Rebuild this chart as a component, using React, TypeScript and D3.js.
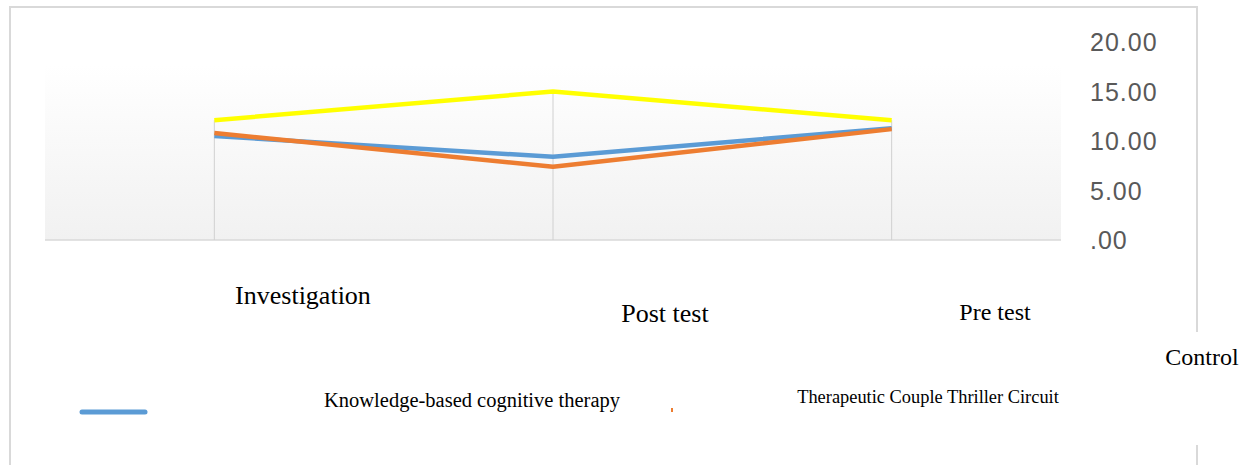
import * as d3 from 'd3';
import { useEffect, useRef } from 'react';

// categories along the x axis
const categories = ['Investigation', 'Post test', 'Pre test'];
// series values
const knowledgeValues = [10.5, 8.4, 11.3];
const thrillerValues = [10.8, 7.4, 11.2];
const controlValues = [12.1, 15.0, 12.1];
const yTicks = [0, 5, 10, 15, 20];
const yTickLabels = ['.00', '5.00', '10.00', '15.00', '20.00'];

const seriesNames = ['Knowledge-based cognitive therapy', 'Therapeutic Couple Thriller Circuit', 'Control'];

export default function App() {
  const ref = useRef<SVGSVGElement | null>(null);

  useEffect(() => {
    if (!ref.current) return;
    const svg = d3.select(ref.current);
    svg.selectAll('*').remove();

    const width = 1256;
    const height = 465;
    const plot = { left: 45, right: 1061, top: 65, bottom: 240 };
    const serif = '"Times New Roman", "Liberation Serif", serif';

    svg.attr('width', width).attr('height', height).attr('viewBox', `0 0 ${width} ${height}`);

    // outer frame (right edge broken where "Control" sits)
    const frame = svg.append('g').attr('stroke', '#d9d9d9').attr('stroke-width', 2).attr('fill', 'none');
    frame.append('line').attr('x1', 9).attr('x2', 1198).attr('y1', 7).attr('y2', 7);
    frame.append('line').attr('x1', 10).attr('x2', 10).attr('y1', 6).attr('y2', height);
    frame.append('line').attr('x1', 1197).attr('x2', 1197).attr('y1', 6).attr('y2', 332);
    frame.append('line').attr('x1', 1197).attr('x2', 1197).attr('y1', 445).attr('y2', height);

    const x = d3
      .scaleBand<string>()
      .domain(categories)
      .range([plot.left, plot.right]);
    const cx = (c: string) => (x(c) || 0) + x.bandwidth() / 2;
    const y = d3.scaleLinear().domain([0, 20]).range([240, 42]);

    // plot background gradient
    const defs = svg.append('defs');
    const grad = defs
      .append('linearGradient')
      .attr('id', 'bg')
      .attr('x1', 0)
      .attr('x2', 0)
      .attr('y1', 0)
      .attr('y2', 1);
    grad.append('stop').attr('offset', '0%').attr('stop-color', '#ffffff');
    grad.append('stop').attr('offset', '100%').attr('stop-color', '#f1f1f1');
    svg
      .append('rect')
      .attr('x', plot.left)
      .attr('y', plot.top)
      .attr('width', plot.right - plot.left)
      .attr('height', plot.bottom - plot.top)
      .attr('fill', 'url(#bg)');

    // baseline
    svg
      .append('line')
      .attr('x1', plot.left)
      .attr('x2', plot.right)
      .attr('y1', y(0))
      .attr('y2', y(0))
      .attr('stroke', '#d9d9d9')
      .attr('stroke-width', 1.5);

    // drop lines from the highest point
    const allSeries = [knowledgeValues, thrillerValues, controlValues];
    categories.forEach((c, i) => {
      const top = d3.max(allSeries, (s) => s[i]) || 0;
      svg
        .append('line')
        .attr('x1', cx(c))
        .attr('x2', cx(c))
        .attr('y1', y(top))
        .attr('y2', y(0))
        .attr('stroke', '#d0d0d0')
        .attr('stroke-width', 1);
    });

    // y tick labels on the right
    svg
      .append('g')
      .selectAll('text')
      .data(yTicks)
      .enter()
      .append('text')
      .attr('x', 1090)
      .attr('y', (d) => y(d) + 9)
      .attr('font-family', '"Liberation Sans", Arial, sans-serif')
      .attr('font-size', 25)
      .attr('letter-spacing', 1)
      .attr('fill', '#595959')
      .text((d, i) => yTickLabels[i]);

    // lines
    const colors = ['#5b9bd5', '#ed7d31', '#ffff00'];
    const line = d3
      .line<number>()
      .x((d, i) => cx(categories[i]))
      .y((d) => y(d));
    allSeries.forEach((s, i) => {
      svg
        .append('path')
        .datum(s)
        .attr('d', line)
        .attr('fill', 'none')
        .attr('stroke', colors[i])
        .attr('stroke-width', 4.5)
        .attr('stroke-linejoin', 'round');
    });

    // category labels (staggered as in the source)
    const catLabelPos = [
      { x: 303, y: 304, size: 26 },
      { x: 665, y: 322, size: 26 },
      { x: 995, y: 320, size: 24 },
    ];
    categories.forEach((c, i) => {
      svg
        .append('text')
        .attr('x', catLabelPos[i].x)
        .attr('y', catLabelPos[i].y)
        .attr('text-anchor', 'middle')
        .attr('font-family', serif)
        .attr('font-size', catLabelPos[i].size)
        .attr('fill', '#000')
        .text(c);
    });

    // legend
    svg
      .append('line')
      .attr('x1', 82)
      .attr('x2', 145)
      .attr('y1', 412)
      .attr('y2', 412)
      .attr('stroke', colors[0])
      .attr('stroke-width', 5)
      .attr('stroke-linecap', 'round');
    svg
      .append('rect')
      .attr('x', 671)
      .attr('y', 408)
      .attr('width', 2)
      .attr('height', 4)
      .attr('fill', colors[1]);

    const legendPos = [
      { x: 472, y: 407, size: 20.5 },
      { x: 928, y: 403, size: 18.4 },
      { x: 1202, y: 365, size: 24 },
    ];
    seriesNames.forEach((n, i) => {
      svg
        .append('text')
        .attr('x', legendPos[i].x)
        .attr('y', legendPos[i].y)
        .attr('text-anchor', 'middle')
        .attr('font-family', serif)
        .attr('font-size', legendPos[i].size)
        .attr('fill', '#000')
        .text(n);
    });
  }, []);

  return (
    <svg
      ref={ref}
      style={{ position: 'absolute', left: 0, top: 0, background: '#fff' }}
      role="img"
      aria-label="Line chart of three groups"
    />
  );
}
